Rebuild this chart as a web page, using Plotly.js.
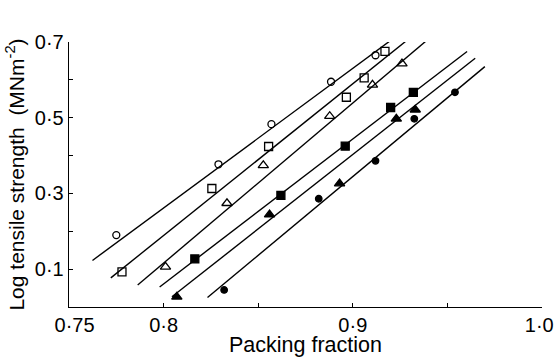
<!DOCTYPE html>
<html>
<head>
<meta charset="utf-8">
<script src="https://cdn.plot.ly/plotly-3.0.1.min.js"></script>
<style>html,body{margin:0;padding:0;background:#fff;}#chart{width:554px;height:357px;}</style>
</head>
<body>
<div id="chart"></div>
<script>
// Data
const seriesNames = ["open circle", "open square", "open triangle", "filled square", "filled triangle", "filled circle"];

const openCircleX = [0.775, 0.829, 0.857, 0.8885, 0.912];
const openCircleY = [0.190, 0.377, 0.483, 0.595, 0.665];

const openSquareX = [0.778, 0.8255, 0.8555, 0.8966, 0.906, 0.917];
const openSquareY = [0.093, 0.313, 0.424, 0.554, 0.605, 0.675];

const openTriangleX = [0.801, 0.8335, 0.8527, 0.8878, 0.9104, 0.926];
const openTriangleY = [0.106, 0.274, 0.374, 0.504, 0.587, 0.643];

const filledSquareX = [0.8165, 0.862, 0.896, 0.920, 0.932];
const filledSquareY = [0.127, 0.295, 0.425, 0.527, 0.567];

const filledTriangleX = [0.807, 0.856, 0.893, 0.923, 0.933];
const filledTriangleY = [0.027, 0.244, 0.326, 0.497, 0.521];

const filledCircleX = [0.832, 0.882, 0.912, 0.9325, 0.954];
const filledCircleY = [0.045, 0.286, 0.386, 0.497, 0.567];

// Fitted straight lines (start and end of each drawn line)
const fitOpenCircleX = [0.7624, 0.9197];
const fitOpenCircleY = [0.123, 0.703];
const fitOpenSquareX = [0.7721, 0.9285];
const fitOpenSquareY = [0.077, 0.704];
const fitOpenTriangleX = [0.7863, 0.9388];
const fitOpenTriangleY = [0.058, 0.703];
const fitFilledSquareX = [0.7979, 0.9604];
const fitFilledSquareY = [0.053, 0.675];
const fitFilledTriangleX = [0.8044, 0.9647];
const fitFilledTriangleY = [0.027, 0.657];
const fitFilledCircleX = [0.8232, 0.9698];
const fitFilledCircleY = [0.025, 0.635];

const xTickVals = [0.75, 0.8, 0.85, 0.9, 0.95, 1.0];
const xTickText = ["\u00a0\u00a00·75", "0·8", "", "0·9", "", "1·0\u00a0"];
const yTickVals = [0.1, 0.2, 0.3, 0.4, 0.5, 0.6, 0.7];
const yTickText = ["0·1", "", "0·3", "", "0·5", "", "0·7"];

const xTitle = "Packing fraction";
const yTitle = "Log tensile strength  (MNm<sup>-2</sup>)";

const fits = [
  [fitOpenCircleX, fitOpenCircleY],
  [fitOpenSquareX, fitOpenSquareY],
  [fitOpenTriangleX, fitOpenTriangleY],
  [fitFilledSquareX, fitFilledSquareY],
  [fitFilledTriangleX, fitFilledTriangleY],
  [fitFilledCircleX, fitFilledCircleY]
];
const points = [
  [openCircleX, openCircleY, "circle-open", 7],
  [openSquareX, openSquareY, "square-open", 8],
  [openTriangleX, openTriangleY, "triangle-up-open", 9],
  [filledSquareX, filledSquareY, "square", 8],
  [filledTriangleX, filledTriangleY, "triangle-up", 9],
  [filledCircleX, filledCircleY, "circle", 6.5]
];

const traces = [];
fits.forEach((f, i) => {
  traces.push({
    x: f[0], y: f[1], mode: "lines", name: seriesNames[i] + " fit",
    line: {color: "#000", width: 1.4}, hoverinfo: "skip", showlegend: false
  });
});
points.forEach((p, i) => {
  traces.push({
    x: p[0], y: p[1], mode: "markers", name: seriesNames[i], showlegend: false,
    marker: {symbol: p[2], size: p[3], color: "#000", line: {color: "#000", width: 1.3}}
  });
});

const fontFam = "Liberation Sans, Arial, sans-serif";
const layout = {
  width: 554, height: 357,
  margin: {l: 69, r: 12, t: 42, b: 50, pad: 0},
  paper_bgcolor: "#fff", plot_bgcolor: "#fff",
  font: {family: fontFam, color: "#000", size: 20},
  showlegend: false,
  xaxis: {
    range: [0.75, 1.0], showgrid: false, zeroline: false,
    showline: true, linecolor: "#000", linewidth: 1.3,
    ticks: "inside", ticklen: 4, tickwidth: 1.2, tickcolor: "#000",
    tickmode: "array", tickvals: xTickVals, ticktext: xTickText,
    ticklabeloverflow: "allow",
    tickfont: {size: 20, family: fontFam, color: "#000"},
    title: {text: xTitle, font: {size: 21.5, family: fontFam, color: "#000"}, standoff: 4},
    automargin: false
  },
  yaxis: {
    range: [0, 0.7], showgrid: false, zeroline: false,
    showline: true, linecolor: "#000", linewidth: 1.3,
    ticks: "inside", ticklen: 4, tickwidth: 1.2, tickcolor: "#000",
    tickmode: "array", tickvals: yTickVals, ticktext: yTickText,
    ticklabeloverflow: "allow",
    tickfont: {size: 20, family: fontFam, color: "#000"},
    title: {text: yTitle, font: {size: 21, family: fontFam, color: "#000"}, standoff: 4},
    automargin: false
  }
};

Plotly.newPlot("chart", traces, layout, {staticPlot: true, displayModeBar: false});
</script>
</body>
</html>
